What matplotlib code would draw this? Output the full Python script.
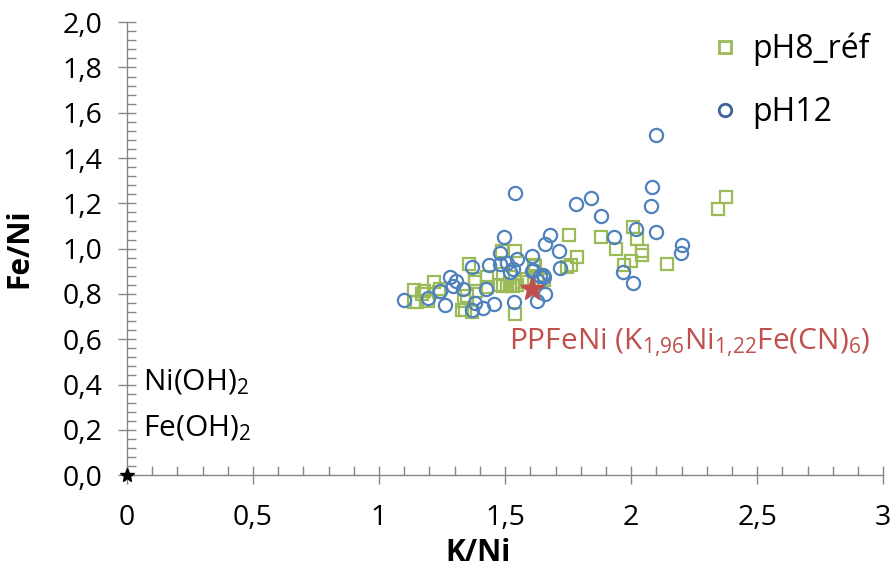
import numpy as np
import matplotlib.pyplot as plt
from matplotlib.lines import Line2D
from matplotlib.ticker import FixedLocator, MultipleLocator

plt.rcParams['font.family'] = ['Open Sans', 'DejaVu Sans']
plt.rcParams['mathtext.default'] = 'regular'

# pH8_réf (squares)
ph8_k_ni = [1.14, 1.15, 1.18, 1.196, 1.216, 1.242, 1.137, 1.169, 1.236, 1.335, 1.341,
            1.328, 1.348, 1.358, 1.368, 1.381, 1.385, 1.381, 1.427, 1.427, 1.48, 1.493,
            1.507, 1.52, 1.533, 1.487, 1.493, 1.52, 1.54, 1.54, 1.547, 1.567, 1.587,
            1.613, 1.62, 1.627, 1.653, 1.747, 1.76, 1.755, 1.787, 1.88, 1.94, 1.97,
            1.999, 2.006, 2.023, 2.042, 2.042, 2.144, 2.344, 2.377]
ph8_fe_ni = [0.818, 0.764, 0.815, 0.771, 0.852, 0.822, 0.764, 0.80, 0.808, 0.771, 0.727,
             0.727, 0.793, 0.933, 0.72, 0.852, 0.815, 0.866, 0.874, 0.83, 0.84, 0.835,
             0.835, 0.84, 0.835, 0.991, 0.889, 0.874, 0.99, 0.712, 0.84, 0.852, 0.866,
             0.93, 0.925, 0.881, 0.86, 0.92, 0.93, 1.062, 0.962, 1.05, 0.999, 0.93,
             0.947, 1.094, 1.043, 0.991, 0.974, 0.933, 1.175, 1.229]

# pH12 (circles)
ph12_k_ni = [1.10, 1.193, 1.24, 1.263, 1.282, 1.295, 1.306, 1.332, 1.367, 1.369, 1.382,
             1.411, 1.425, 1.438, 1.456, 1.48, 1.48, 1.496, 1.506, 1.52, 1.533, 1.546,
             1.536, 1.54, 1.606, 1.607, 1.611, 1.628, 1.632, 1.639, 1.651, 1.655, 1.659,
             1.657, 1.679, 1.713, 1.718, 1.783, 1.84, 1.881, 1.933, 1.966, 2.007, 2.021,
             2.077, 2.081, 2.099, 2.099, 2.197, 2.2]
ph12_fe_ni = [0.775, 0.784, 0.812, 0.752, 0.877, 0.833, 0.859, 0.824, 0.921, 0.727, 0.762,
              0.739, 0.824, 0.928, 0.755, 0.979, 0.933, 1.050, 0.937, 0.896, 0.91, 0.955,
              0.764, 1.245, 0.969, 0.903, 0.907, 0.771, 0.859, 0.881, 0.885, 0.874, 0.80,
              1.02, 1.059, 0.988, 0.915, 1.195, 1.222, 1.142, 1.050, 0.896, 0.847, 1.085,
              1.188, 1.274, 1.072, 1.504, 0.982, 1.015]

ppfeni = (1.96 / 1.22, 1 / 1.22)
hydroxide = (0.0, 0.0)

x_ticks = [0, 0.5, 1, 1.5, 2, 2.5, 3]
x_labels = ['0', '0,5', '1', '1,5', '2', '2,5', '3']
y_ticks = [0.0, 0.2, 0.4, 0.6, 0.8, 1.0, 1.2, 1.4, 1.6, 1.8, 2.0]
y_labels = ['0,0', '0,2', '0,4', '0,6', '0,8', '1,0', '1,2', '1,4', '1,6', '1,8', '2,0']

green = '#9BBB59'
blue = '#4F81BD'
red = '#C0504D'
grey = '#868686'

fig = plt.figure(figsize=(8.94, 5.69), dpi=100)
ax = fig.add_axes([0.142, 0.165, 0.846, 0.796])

ax.plot(ph8_k_ni, ph8_fe_ni, linestyle='none', marker='s', markersize=9,
        markerfacecolor='none', markeredgecolor=green, markeredgewidth=1.6)
ax.plot(ph12_k_ni, ph12_fe_ni, linestyle='none', marker='o', markersize=9.5,
        markerfacecolor='none', markeredgecolor=blue, markeredgewidth=1.6)
ax.plot(*ppfeni, linestyle='none', marker='*', markersize=18, color=red)
ax.plot(*hydroxide, linestyle='none', marker='*', markersize=10, color='black',
        clip_on=False, zorder=5)

ax.text(1.516, 0.585, r'PPFeNi (K$_{1{,}96}$Ni$_{1{,}22}$Fe(CN)$_6$)', color=red,
        fontsize=21.5, va='center', ha='left')
ax.text(0.065, 0.41, r'Ni(OH)$_2$', fontsize=21.5, va='center', ha='left')
ax.text(0.065, 0.205, r'Fe(OH)$_2$', fontsize=21.5, va='center', ha='left')

ax.set_xlim(0, 3)
ax.set_ylim(0, 2)
ax.xaxis.set_major_locator(FixedLocator(x_ticks))
ax.set_xticklabels(x_labels)
ax.yaxis.set_major_locator(FixedLocator(y_ticks))
ax.set_yticklabels(y_labels)
ax.xaxis.set_minor_locator(MultipleLocator(0.1))
ax.yaxis.set_minor_locator(MultipleLocator(0.04))

for side in ['top', 'right']:
    ax.spines[side].set_visible(False)
for side in ['left', 'bottom']:
    ax.spines[side].set_color(grey)
    ax.spines[side].set_linewidth(1.0)

ax.tick_params(which='major', direction='inout', length=13, width=1.0, color=grey,
               labelsize=20.5)
ax.tick_params(which='minor', direction='in', length=6.5, width=1.0, color=grey)
ax.tick_params(axis='y', which='major', pad=11)
ax.tick_params(axis='x', which='major', pad=14)

ax.set_xlabel('K/Ni', fontsize=21.5, fontweight='bold')
ax.set_ylabel('Fe/Ni', fontsize=21.5, fontweight='bold')
ax.xaxis.set_label_coords(0.464, -0.138)
ax.yaxis.set_label_coords(-0.122, 0.5)

handles = [
    Line2D([], [], linestyle='none', marker='s', markersize=9, markerfacecolor='none',
           markeredgecolor=green, markeredgewidth=2),
    Line2D([], [], linestyle='none', marker='o', markersize=9, markerfacecolor='none',
           markeredgecolor='#3C6494', markeredgewidth=2),
]
ax.legend(handles, ['pH8_réf', 'pH12'], loc='upper left', bbox_to_anchor=(0.793, 0.943),
          bbox_transform=fig.transFigure, frameon=False, fontsize=23, borderaxespad=0,
          handlelength=1.0, handletextpad=0.35, labelspacing=0.95, borderpad=0)

fig.savefig('out.png', dpi=100)
